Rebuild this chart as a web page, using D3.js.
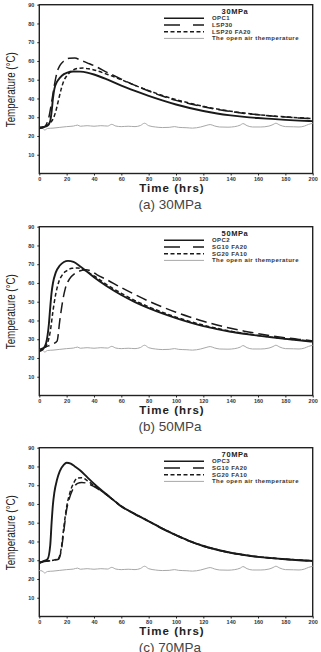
<!DOCTYPE html>
<html>
<head>
<meta charset="utf-8">
<script src="https://cdn.jsdelivr.net/npm/d3@7"></script>
<style>
  body { margin: 0; background: #fff; }
  svg { display: block; font-family: "Liberation Sans", Arial, sans-serif; }
</style>
</head>
<body>
<svg id="viz" width="321" height="652"></svg>
<script>
// ----------------------- DATA

const xTicks = [0, 20, 40, 60, 80, 100, 120, 140, 160, 180, 200];
const yTicks = [10, 20, 30, 40, 50, 60, 70, 80, 90];

// open air temperature, same record in all three panels
const airTemp = [[0,24.5],[2,24.3],[4,23.2],[6,24],[10,24.2],[15,24.6],[20,25],[25,25.3],[28,25.8],[30,25.2],[35,25.5],[40,25.2],[45,25.5],[50,25.3],[53,26.2],[56,25.3],[60,25],[65,25.2],[70,25],[74,25.6],[77,26.8],[80,25.5],[85,24.8],[90,24.5],[95,24.6],[99,25],[102,24.6],[108,24.4],[112,24.2],[118,24.8],[122,25.6],[125,26.1],[128,25.4],[132,24.8],[138,24.7],[143,25],[147,25.8],[149,26.6],[152,25.5],[156,24.8],[162,24.8],[168,25.3],[171,26.1],[173,26.8],[176,25.8],[180,25],[186,24.9],[190,24.8],[194,25.3],[197,26.2],[200,26.8]];

// (a) 30MPa
const opc1 = [[0,24.5],[3,24.8],[6,25.5],[8,28],[9,33],[10,40],[11,45],[13,49],[15,51],[18,53],[20,53.7],[25,54.4],[30,54.3],[35,53.8],[40,52.8],[50,50],[60,46.8],[70,44],[80,41.4],[90,39],[100,36.8],[110,34.9],[120,33.3],[130,32],[140,31],[150,30.2],[160,29.6],[170,29.1],[180,28.6],[190,28.2],[200,27.9]];
const lsp30 = [[0,24],[3,24.5],[5,26],[7,30],[9,38],[11,47],[13,54],[15,57.5],[18,60],[22,61.5],[26,61.6],[30,60.5],[35,59],[40,57.5],[50,53.8],[60,50.3],[70,47],[80,44],[90,41.3],[100,39],[110,37.2],[120,35.6],[130,34.2],[140,33],[150,32],[160,31.3],[170,30.6],[180,30.1],[190,29.6],[200,29.2]];
const lsp20fa20 = [[0,24.2],[4,25],[8,27],[10,29],[12,33],[14,39],[16,45],[18,49.5],[20,52],[24,54.8],[28,56],[32,56.2],[36,55.8],[40,55.2],[50,52.8],[60,50],[70,47],[80,44.2],[90,41.6],[100,39.4],[110,37.5],[120,35.8],[130,34.4],[140,33.2],[150,32.2],[160,31.4],[170,30.7],[180,30.2],[190,29.7],[200,29.3]];

// (b) 50MPa
const opc2 = [[0,23.5],[3,25],[5,28],[7,38],[8,47],[9,55],[10,60],[12,65.5],[15,69.3],[18,71.2],[21,71.8],[25,71.2],[30,68.8],[35,66],[40,63],[50,58],[60,53.6],[70,49.8],[80,46.6],[90,43.8],[100,41.3],[110,39],[120,37],[130,35.4],[140,34],[150,32.9],[160,31.9],[170,31],[180,30.2],[190,29.4],[200,28.7]];
const sg10fa20b = [[0,24.5],[5,26],[10,27.5],[13,29],[15,40],[17,50],[19,57],[22,62],[26,65],[30,66.5],[34,67],[38,66.3],[42,64.5],[50,61.5],[60,57.5],[70,53.8],[80,50.3],[90,47.2],[100,44.4],[110,41.9],[120,39.6],[130,37.6],[140,35.8],[150,34.3],[160,33],[170,31.8],[180,30.8],[190,29.9],[200,29.2]];
const sg20fa10b = [[0,24],[4,25.5],[6,28],[8,34],[10,45],[12,54],[14,60],[17,64.5],[20,66.5],[24,67.8],[28,68],[32,67.2],[36,65.5],[40,63.8],[50,58.8],[60,54.5],[70,50.6],[80,47.3],[90,44.4],[100,41.8],[110,39.5],[120,37.5],[130,35.8],[140,34.3],[150,33.1],[160,32],[170,31.1],[180,30.3],[190,29.6],[200,29]];

// (c) 70MPa
const opc3 = [[0,28.5],[3,29.5],[6,30.5],[8,38],[9,50],[10,60],[11,66],[13,73],[15,77.5],[18,81],[20,82],[23,81.5],[26,80],[30,77.8],[35,74.3],[40,70.8],[50,64.6],[60,58.8],[70,54.6],[80,50.8],[90,46.9],[100,43.4],[110,40.2],[120,37.6],[130,35.6],[140,34],[150,32.8],[160,31.8],[170,31.1],[180,30.5],[190,30],[200,29.6]];
const sg10fa20c = [[0,29],[5,29.5],[10,30],[14,30.5],[16,35],[18,46],[20,57],[22,63],[25,68.5],[28,71],[31,71.5],[35,71],[40,69.3],[50,64.4],[60,58.6],[70,54.5],[80,50.7],[90,46.8],[100,43.3],[110,40.1],[120,37.5],[130,35.5],[140,33.9],[150,32.7],[160,31.8],[170,31.1],[180,30.5],[190,30],[200,29.6]];
const sg20fa10c = [[0,28.5],[5,29.5],[10,30],[14,31],[16,36],[18,48],[20,58.5],[22,65],[25,71],[28,73.8],[31,74],[35,72.5],[40,69.8],[50,64.6],[60,58.9],[70,54.7],[80,50.9],[90,47],[100,43.5],[110,40.3],[120,37.7],[130,35.7],[140,34],[150,32.8],[160,31.9],[170,31.2],[180,30.6],[190,30.1],[200,29.7]];

const panelTitles = ['30MPa', '50MPa', '70MPa'];
const panelCaptions = ['(a)  30MPa', '(b)  50MPa', '(c)  70MPa'];
const panelSeries = [
  [['OPC1', opc1], ['LSP30', lsp30], ['LSP20 FA20', lsp20fa20]],
  [['OPC2', opc2], ['SG10 FA20', sg10fa20b], ['SG20 FA10', sg20fa10b]],
  [['OPC3', opc3], ['SG10 FA20', sg10fa20c], ['SG20 FA10', sg20fa10c]]
];
const airLabel = 'The open air themperature';

// ----------------------- SETTINGS

const left = 39.3, right = 312.7, plotH = 168.8;
const panelTops = [4.7, 226.7, 447.7];

// line styles: solid, long dash, short dash, then air
const styles = [
  { w: 1.9, dash: null, c: '#1a1a1a' },
  { w: 1.5, dash: '11,5', c: '#1a1a1a' },
  { w: 1.5, dash: '4,2.5', c: '#1a1a1a' },
  { w: 1, dash: null, c: '#a8a8a8' }
];

const svg = d3.select('#viz');

const x = d3.scaleLinear().domain([0, 200]).range([left, right]);

panelTops.forEach((top, i) => {
  const y = d3.scaleLinear().domain([0, 90]).range([top + plotH, top]);
  const g = svg.append('g');

  // frame
  g.append('rect')
    .attr('x', left).attr('y', top)
    .attr('width', right - left).attr('height', plotH)
    .attr('fill', 'none').attr('stroke', '#222').attr('stroke-width', 1.4);

  // axes
  const xAxis = d3.axisBottom(x).tickValues(xTicks).tickSize(2).tickPadding(1.5);
  const yAxis = d3.axisLeft(y).tickValues(yTicks).tickSize(2).tickPadding(3);

  g.append('g')
    .attr('transform', `translate(0, ${top + plotH})`)
    .call(xAxis)
    .call(a => a.select('.domain').remove())
    .selectAll('text')
    .attr('font-size', 5.5).attr('font-weight', 'bold').attr('fill', '#333');

  g.append('g')
    .attr('transform', `translate(${left}, 0)`)
    .call(yAxis)
    .call(a => a.select('.domain').remove())
    .selectAll('text')
    .attr('font-size', 5.5).attr('font-weight', 'bold').attr('fill', '#333');

  g.selectAll('.tick line').attr('stroke', '#222');

  const line = d3.line()
    .x(d => x(d[0]))
    .y(d => y(d[1]))
    .curve(d3.curveMonotoneX);

  // air temperature underneath
  g.append('path')
    .datum(airTemp)
    .attr('d', line)
    .attr('fill', 'none')
    .attr('stroke', styles[3].c)
    .attr('stroke-width', styles[3].w);

  // concrete series, drawn back to front
  panelSeries[i].slice().reverse().forEach((s, k) => {
    const st = styles[2 - k];
    g.append('path')
      .datum(s[1])
      .attr('d', line)
      .attr('fill', 'none')
      .attr('stroke', st.c)
      .attr('stroke-width', st.w)
      .attr('stroke-dasharray', st.dash);
  });

  // legend
  g.append('text')
    .attr('x', 235).attr('y', top + 9.5)
    .attr('text-anchor', 'middle')
    .attr('font-size', 7.5).attr('font-weight', 'bold')
    .attr('letter-spacing', 0.6)
    .attr('fill', '#222')
    .text(panelTitles[i]);

  const entries = panelSeries[i].map(s => s[0]).concat([airLabel]);
  entries.forEach((name, k) => {
    const ly = top + 13.6 + k * 6.7;
    g.append('line')
      .attr('x1', 164).attr('x2', 204)
      .attr('y1', ly).attr('y2', ly)
      .attr('stroke', styles[k].c)
      .attr('stroke-width', k === 3 ? 1 : 1.4)
      .attr('stroke-dasharray', k === 1 ? '16,13' : styles[k].dash);
    g.append('text')
      .attr('x', 212).attr('y', ly + 2)
      .attr('font-size', 6).attr('font-weight', 'bold')
      .attr('letter-spacing', 0.45)
      .attr('fill', '#333')
      .text(name);
  });

  // axis titles
  g.append('text')
    .attr('transform', `translate(15, ${top + 85}) rotate(-90)`)
    .attr('text-anchor', 'middle')
    .attr('font-size', 12)
    .attr('textLength', 75).attr('lengthAdjust', 'spacingAndGlyphs')
    .attr('fill', '#222')
    .text('Temperature (°C)');

  g.append('text')
    .attr('x', 172).attr('y', top + plotH + 18.5)
    .attr('text-anchor', 'middle')
    .attr('font-size', 11.5).attr('font-weight', 'bold')
    .attr('letter-spacing', 1)
    .attr('fill', '#222')
    .text('Time (hrs)');

  g.append('text')
    .attr('x', 170).attr('y', top + plotH + 35)
    .attr('text-anchor', 'middle')
    .attr('font-size', 13.5)
    .attr('fill', '#444')
    .text(panelCaptions[i]);
});
</script>
</body>
</html>
